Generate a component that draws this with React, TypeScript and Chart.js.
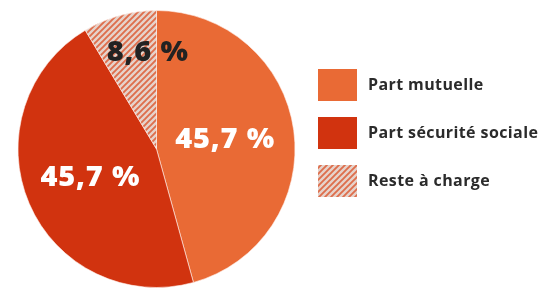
import React, { useEffect, useRef } from "react";
import { Chart, registerables } from "chart.js";

Chart.register(...registerables);

const categories = ["Part mutuelle", "Part sécurité sociale", "Reste à charge"];
const shares = [45.7, 45.7, 8.6];
const valueLabels = ["45,7 %", "45,7 %", "8,6 %"];

function makeHatch(): CanvasPattern | string {
  const c = document.createElement("canvas");
  const s = 6;
  c.width = s;
  c.height = s;
  const ctx = c.getContext("2d");
  if (!ctx) return "#e8cfc4";
  ctx.fillStyle = "#e6d3cb";
  ctx.fillRect(0, 0, s, s);
  ctx.strokeStyle = "#de6e4c";
  ctx.lineWidth = 1.9;
  ctx.beginPath();
  ctx.moveTo(-1, s + 1);
  ctx.lineTo(s + 1, -1);
  ctx.moveTo(-1, 1);
  ctx.lineTo(1, -1);
  ctx.moveTo(s - 1, s + 1);
  ctx.lineTo(s + 1, s - 1);
  ctx.stroke();
  return ctx.createPattern(c, "repeat") as CanvasPattern;
}

const labelRadius = [0.5, 0.52, 0.7];
const labelShift = [0.0, 0.0, 0.18];
const labelColors = ["#ffffff", "#ffffff", "#222222"];

export default function App() {
  const ref = useRef<HTMLCanvasElement | null>(null);
  useEffect(() => {
    if (!ref.current) return;
    const hatch = makeHatch();
    const colors = ["#e96a35", "#d1330f", hatch];

    const labelPlugin = {
      id: "sliceLabels",
      afterDatasetsDraw(chart: any) {
        const ctx = chart.ctx;
        const meta = chart.getDatasetMeta(0);
        ctx.save();
        ctx.font = "800 29px 'Open Sans'";
        (ctx as any).letterSpacing = "0.8px";
        ctx.textAlign = "center";
        ctx.textBaseline = "middle";
        meta.data.forEach((arc: any, i: number) => {
          const p = arc.getProps(["x", "y", "startAngle", "endAngle", "outerRadius"], true);
          const mid = (p.startAngle + p.endAngle) / 2 + labelShift[i];
          const r = p.outerRadius * labelRadius[i];
          ctx.fillStyle = labelColors[i];
          ctx.fillText(valueLabels[i], p.x + Math.cos(mid) * r, p.y + Math.sin(mid) * r);
        });
        ctx.restore();
      },
    };

    const legendPlugin = {
      id: "sideLegend",
      afterDraw(chart: any) {
        const ctx = chart.ctx;
        ctx.save();
        const x0 = 318;
        const y0 = 69;
        const step = 48;
        ctx.font = "700 16px 'Open Sans'";
        (ctx as any).letterSpacing = "0.4px";
        ctx.textBaseline = "middle";
        ctx.textAlign = "left";
        chart.data.labels.forEach((lab: string, i: number) => {
          const y = y0 + i * step;
          ctx.fillStyle = colors[i];
          ctx.fillRect(x0, y, 39, 32);
          ctx.fillStyle = "#2b2b2b";
          ctx.fillText(lab, 368, y + 16);
        });
        ctx.restore();
      },
    };

    const chart = new Chart(ref.current, {
      type: "pie",
      data: {
        labels: categories,
        datasets: [
          {
            data: shares,
            backgroundColor: colors as any,
            borderColor: "rgba(255,240,235,0.6)",
            borderWidth: 1,
          },
        ],
      },
      options: {
        animation: false,
        responsive: false,
        maintainAspectRatio: false,
        layout: { padding: { left: 17, right: 248, top: 10, bottom: 1 } },
        plugins: {
          legend: { display: false },
          tooltip: { enabled: false },
        },
      },
      plugins: [labelPlugin, legendPlugin],
    });
    return () => chart.destroy();
  }, []);

  return (
    <div style={{ position: "fixed", left: 0, top: 0, width: 544, height: 289, background: "#fff" }}>
      <canvas ref={ref} width={544} height={289} style={{ width: 544, height: 289 }} />
    </div>
  );
}
